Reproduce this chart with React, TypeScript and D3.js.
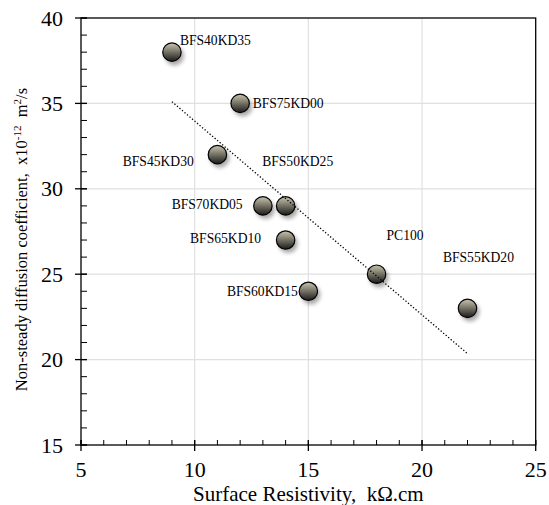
import React from "react";
import * as d3 from "d3";

const resistivity = [9, 12, 11, 14, 13, 14, 15, 18, 22];
const diffusion = [38, 35, 32, 29, 29, 27, 24, 25, 23];
const mixLabels = ["BFS40KD35", "BFS75KD00", "BFS45KD30", "BFS50KD25", "BFS70KD05", "BFS65KD10", "BFS60KD15", "PC100", "BFS55KD20"];
// label offsets in data units relative to point (dx, dy) and anchor
const labelDx = [0.35, 0.55, -1.04, -1.03, -0.89, -1.08, -0.46, 0.44, -1.08];
const labelDy = [0.7, 0, -0.4, 2.6, 0.1, 0.1, 0, 2.3, 3.0];
const labelAnchor = ["start", "start", "end", "start", "end", "end", "end", "start", "start"];
const trendX = [9, 22];
const trendY = [35.1, 20.35];
const xTicks = [5, 10, 15, 20, 25];
const yTicks = [15, 20, 25, 30, 35, 40];

export default function App() {
  const W = 549, H = 505;
  const m = { left: 81, right: 535.7, top: 18, bottom: 445 };
  const x = d3.scaleLinear().domain([5, 25]).range([m.left, m.right]);
  const y = d3.scaleLinear().domain([15, 40]).range([m.bottom, m.top]);
  const xMinor = d3.range(5, 25.01, 1);
  const yMinor = d3.range(15, 40.01, 1);
  const line = d3.line<number>().x((d, i) => x(trendX[i])).y((d, i) => y(trendY[i]));
  const font = "'Liberation Serif', 'Times New Roman', serif";
  return (
    <svg width={W} height={H} style={{ position: "absolute", left: 0, top: 0 }} fontFamily={font}>
      <defs>
        <linearGradient id="ball" x1="0" y1="0" x2="0" y2="1">
          <stop offset="0%" stopColor="#c9c4ae" />
          <stop offset="35%" stopColor="#8e8a7a" />
          <stop offset="100%" stopColor="#1a1a1a" />
        </linearGradient>
        <filter id="shadow" x="-50%" y="-50%" width="200%" height="200%">
          <feGaussianBlur stdDeviation="2" />
        </filter>
      </defs>
      <rect x={0} y={0} width={W} height={H} fill="#fff" />
      {/* grid */}
      {xTicks.slice(1, -1).map((t) => (
        <line key={"gx" + t} x1={x(t)} x2={x(t)} y1={m.top} y2={m.bottom} stroke="#e0e0e0" strokeWidth={1.2} />
      ))}
      {yTicks.slice(1, -1).map((t) => (
        <line key={"gy" + t} x1={m.left} x2={m.right} y1={y(t)} y2={y(t)} stroke="#e0e0e0" strokeWidth={1.2} />
      ))}
      {/* frame */}
      <rect x={m.left} y={m.top} width={m.right - m.left} height={m.bottom - m.top} fill="none" stroke="#000" strokeWidth={1.3} />
      {/* minor ticks */}
      {xMinor.map((t) => (
        <line key={"mx" + t} x1={x(t)} x2={x(t)} y1={m.bottom} y2={m.bottom - 5} stroke="#000" strokeWidth={1} />
      ))}
      {yMinor.map((t) => (
        <line key={"my" + t} x1={m.left} x2={m.left + 6} y1={y(t)} y2={y(t)} stroke="#000" strokeWidth={1} />
      ))}
      {/* major ticks */}
      {xTicks.map((t) => (
        <line key={"Mx" + t} x1={x(t)} x2={x(t)} y1={m.bottom - 5} y2={m.bottom + 6} stroke="#000" strokeWidth={1.3} />
      ))}
      {yTicks.map((t) => (
        <line key={"My" + t} x1={m.left - 6} x2={m.left + 6} y1={y(t)} y2={y(t)} stroke="#000" strokeWidth={1.3} />
      ))}
      {/* tick labels */}
      {xTicks.map((t) => (
        <text key={"tx" + t} x={x(t)} y={477} fontSize={22} textAnchor="middle">{t}</text>
      ))}
      {yTicks.map((t) => (
        <text key={"ty" + t} x={63} y={y(t) + 7.5} fontSize={22} textAnchor="end">{t}</text>
      ))}
      {/* axis titles */}
      <text x={x(15)} y={500.5} fontSize={21} textAnchor="middle">Surface Resistivity,{"\u00a0\u00a0"}kΩ.cm</text>
      <text transform={`translate(27, ${(m.top + m.bottom) / 2 + 8}) rotate(-90)`} fontSize={16.5} textAnchor="middle">
        Non-steady diffusion coefficient,{"\u00a0\u00a0"}x10<tspan dy={-6} fontSize={11}>-12</tspan>
        <tspan dy={6}>{"\u00a0\u00a0"}m</tspan><tspan dy={-6} fontSize={11}>2</tspan><tspan dy={6}>/s</tspan>
      </text>
      {/* markers */}
      {resistivity.map((r, i) => (
        <g key={"p" + i}>
          <circle cx={x(r) + 2.5} cy={y(diffusion[i]) + 3.5} r={9.5} fill="#000" opacity={0.35} filter="url(#shadow)" />
          <circle cx={x(r)} cy={y(diffusion[i])} r={9.2} fill="url(#ball)" stroke="#000" strokeWidth={1.2} />
        </g>
      ))}
      {/* trend */}
      <path d={line(trendX) || ""} fill="none" stroke="#000" strokeWidth={1.3} strokeDasharray="1.3,2" />
      {/* labels */}
      {resistivity.map((r, i) => (
        <text key={"l" + i} x={x(r + labelDx[i])} y={y(diffusion[i] + labelDy[i]) + 4.7} fontSize={13.6} textAnchor={labelAnchor[i]}>
          {mixLabels[i]}
        </text>
      ))}
    </svg>
  );
}
